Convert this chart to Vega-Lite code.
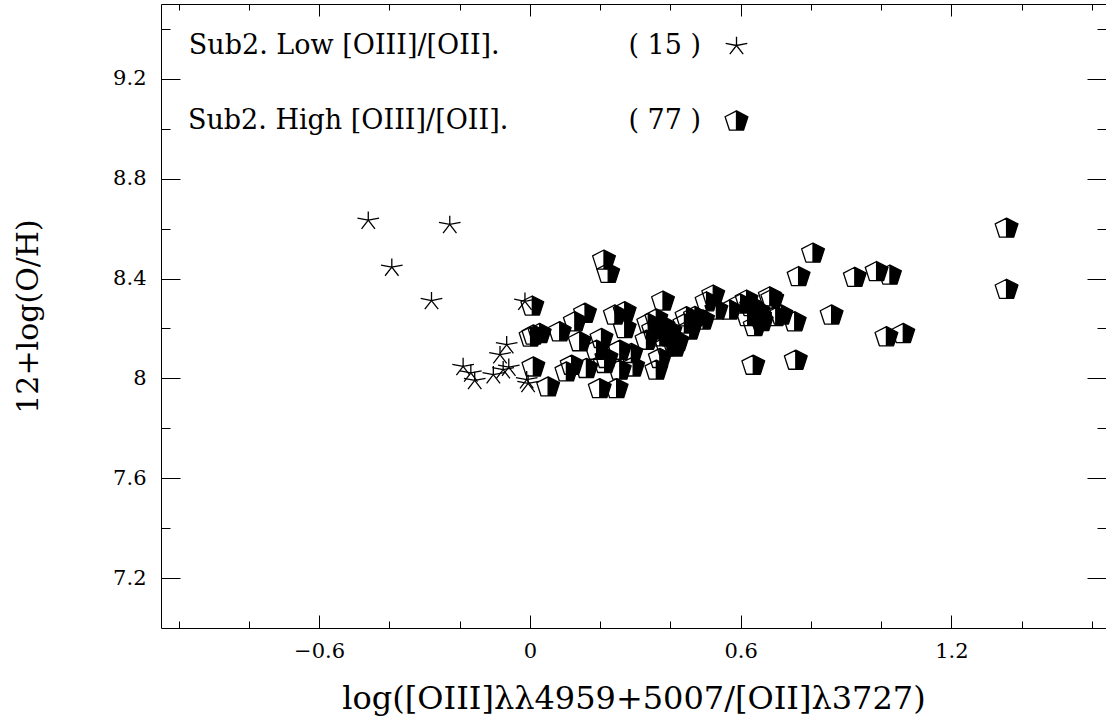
{
  "$schema": "https://vega.github.io/schema/vega-lite/v6.json",
  "autosize": "none",
  "width": 945,
  "height": 624,
  "padding": {"left": 161, "top": 4, "right": 0, "bottom": 97},
  "background": "white",
  "config": {
    "view": {"stroke": null},
    "axis": {"grid": false, "domainColor": "black", "tickColor": "black", "labelColor": "black", "titleColor": "black", "labelFont": "DejaVu Serif", "titleFont": "DejaVu Serif", "labelFontSize": 21, "titleFontWeight": "normal", "domainWidth": 1, "tickWidth": 1, "format": "~r"}
  },
  "datasets": {
    "pts": [
      {"x": -0.460, "y": 8.634, "g": "Sub2. Low [OIII]/[OII]."},
      {"x": -0.228, "y": 8.617, "g": "Sub2. Low [OIII]/[OII]."},
      {"x": -0.393, "y": 8.446, "g": "Sub2. Low [OIII]/[OII]."},
      {"x": -0.280, "y": 8.312, "g": "Sub2. Low [OIII]/[OII]."},
      {"x": -0.014, "y": 8.309, "g": "Sub2. Low [OIII]/[OII]."},
      {"x": -0.066, "y": 8.135, "g": "Sub2. Low [OIII]/[OII]."},
      {"x": -0.085, "y": 8.095, "g": "Sub2. Low [OIII]/[OII]."},
      {"x": -0.076, "y": 8.035, "g": "Sub2. Low [OIII]/[OII]."},
      {"x": -0.190, "y": 8.048, "g": "Sub2. Low [OIII]/[OII]."},
      {"x": -0.168, "y": 8.022, "g": "Sub2. Low [OIII]/[OII]."},
      {"x": -0.157, "y": 7.992, "g": "Sub2. Low [OIII]/[OII]."},
      {"x": -0.104, "y": 8.015, "g": "Sub2. Low [OIII]/[OII]."},
      {"x": -0.060, "y": 8.045, "g": "Sub2. Low [OIII]/[OII]."},
      {"x": -0.009, "y": 7.995, "g": "Sub2. Low [OIII]/[OII]."},
      {"x": -0.005, "y": 7.980, "g": "Sub2. Low [OIII]/[OII]."},
      {"x": 0.211, "y": 8.476, "g": "Sub2. High [OIII]/[OII]."},
      {"x": 0.223, "y": 8.423, "g": "Sub2. High [OIII]/[OII]."},
      {"x": 0.007, "y": 8.292, "g": "Sub2. High [OIII]/[OII]."},
      {"x": 0.379, "y": 8.312, "g": "Sub2. High [OIII]/[OII]."},
      {"x": 0.010, "y": 8.176, "g": "Sub2. High [OIII]/[OII]."},
      {"x": 0.028, "y": 8.182, "g": "Sub2. High [OIII]/[OII]."},
      {"x": 0.002, "y": 8.168, "g": "Sub2. High [OIII]/[OII]."},
      {"x": 0.085, "y": 8.189, "g": "Sub2. High [OIII]/[OII]."},
      {"x": 0.128, "y": 8.229, "g": "Sub2. High [OIII]/[OII]."},
      {"x": 0.157, "y": 8.263, "g": "Sub2. High [OIII]/[OII]."},
      {"x": 0.142, "y": 8.149, "g": "Sub2. High [OIII]/[OII]."},
      {"x": 0.204, "y": 8.162, "g": "Sub2. High [OIII]/[OII]."},
      {"x": 0.242, "y": 8.256, "g": "Sub2. High [OIII]/[OII]."},
      {"x": 0.270, "y": 8.269, "g": "Sub2. High [OIII]/[OII]."},
      {"x": 0.270, "y": 8.202, "g": "Sub2. High [OIII]/[OII]."},
      {"x": 0.337, "y": 8.222, "g": "Sub2. High [OIII]/[OII]."},
      {"x": 0.351, "y": 8.196, "g": "Sub2. High [OIII]/[OII]."},
      {"x": 0.370, "y": 8.169, "g": "Sub2. High [OIII]/[OII]."},
      {"x": 0.398, "y": 8.169, "g": "Sub2. High [OIII]/[OII]."},
      {"x": 0.413, "y": 8.128, "g": "Sub2. High [OIII]/[OII]."},
      {"x": 0.332, "y": 8.155, "g": "Sub2. High [OIII]/[OII]."},
      {"x": 0.190, "y": 8.115, "g": "Sub2. High [OIII]/[OII]."},
      {"x": 0.218, "y": 8.082, "g": "Sub2. High [OIII]/[OII]."},
      {"x": 0.256, "y": 8.115, "g": "Sub2. High [OIII]/[OII]."},
      {"x": 0.289, "y": 8.102, "g": "Sub2. High [OIII]/[OII]."},
      {"x": 0.370, "y": 8.082, "g": "Sub2. High [OIII]/[OII]."},
      {"x": 0.010, "y": 8.048, "g": "Sub2. High [OIII]/[OII]."},
      {"x": 0.119, "y": 8.055, "g": "Sub2. High [OIII]/[OII]."},
      {"x": 0.104, "y": 8.028, "g": "Sub2. High [OIII]/[OII]."},
      {"x": 0.161, "y": 8.042, "g": "Sub2. High [OIII]/[OII]."},
      {"x": 0.213, "y": 8.062, "g": "Sub2. High [OIII]/[OII]."},
      {"x": 0.256, "y": 8.035, "g": "Sub2. High [OIII]/[OII]."},
      {"x": 0.294, "y": 8.048, "g": "Sub2. High [OIII]/[OII]."},
      {"x": 0.360, "y": 8.035, "g": "Sub2. High [OIII]/[OII]."},
      {"x": 0.052, "y": 7.968, "g": "Sub2. High [OIII]/[OII]."},
      {"x": 0.199, "y": 7.961, "g": "Sub2. High [OIII]/[OII]."},
      {"x": 0.247, "y": 7.961, "g": "Sub2. High [OIII]/[OII]."},
      {"x": 0.446, "y": 8.249, "g": "Sub2. High [OIII]/[OII]."},
      {"x": 0.455, "y": 8.196, "g": "Sub2. High [OIII]/[OII]."},
      {"x": 0.493, "y": 8.236, "g": "Sub2. High [OIII]/[OII]."},
      {"x": 0.522, "y": 8.336, "g": "Sub2. High [OIII]/[OII]."},
      {"x": 0.503, "y": 8.309, "g": "Sub2. High [OIII]/[OII]."},
      {"x": 0.531, "y": 8.276, "g": "Sub2. High [OIII]/[OII]."},
      {"x": 0.569, "y": 8.276, "g": "Sub2. High [OIII]/[OII]."},
      {"x": 0.617, "y": 8.316, "g": "Sub2. High [OIII]/[OII]."},
      {"x": 0.655, "y": 8.249, "g": "Sub2. High [OIII]/[OII]."},
      {"x": 0.683, "y": 8.329, "g": "Sub2. High [OIII]/[OII]."},
      {"x": 0.716, "y": 8.256, "g": "Sub2. High [OIII]/[OII]."},
      {"x": 0.636, "y": 8.055, "g": "Sub2. High [OIII]/[OII]."},
      {"x": 0.757, "y": 8.075, "g": "Sub2. High [OIII]/[OII]."},
      {"x": 0.765, "y": 8.410, "g": "Sub2. High [OIII]/[OII]."},
      {"x": 0.806, "y": 8.504, "g": "Sub2. High [OIII]/[OII]."},
      {"x": 0.925, "y": 8.407, "g": "Sub2. High [OIII]/[OII]."},
      {"x": 0.987, "y": 8.430, "g": "Sub2. High [OIII]/[OII]."},
      {"x": 1.025, "y": 8.416, "g": "Sub2. High [OIII]/[OII]."},
      {"x": 0.859, "y": 8.256, "g": "Sub2. High [OIII]/[OII]."},
      {"x": 0.754, "y": 8.229, "g": "Sub2. High [OIII]/[OII]."},
      {"x": 1.015, "y": 8.169, "g": "Sub2. High [OIII]/[OII]."},
      {"x": 1.063, "y": 8.182, "g": "Sub2. High [OIII]/[OII]."},
      {"x": 1.357, "y": 8.604, "g": "Sub2. High [OIII]/[OII]."},
      {"x": 1.357, "y": 8.359, "g": "Sub2. High [OIII]/[OII]."},
      {"x": 0.600, "y": 8.300, "g": "Sub2. High [OIII]/[OII]."},
      {"x": 0.630, "y": 8.290, "g": "Sub2. High [OIII]/[OII]."},
      {"x": 0.650, "y": 8.270, "g": "Sub2. High [OIII]/[OII]."},
      {"x": 0.620, "y": 8.250, "g": "Sub2. High [OIII]/[OII]."},
      {"x": 0.660, "y": 8.230, "g": "Sub2. High [OIII]/[OII]."},
      {"x": 0.640, "y": 8.210, "g": "Sub2. High [OIII]/[OII]."},
      {"x": 0.690, "y": 8.320, "g": "Sub2. High [OIII]/[OII]."},
      {"x": 0.700, "y": 8.250, "g": "Sub2. High [OIII]/[OII]."},
      {"x": 0.360, "y": 8.240, "g": "Sub2. High [OIII]/[OII]."},
      {"x": 0.380, "y": 8.210, "g": "Sub2. High [OIII]/[OII]."},
      {"x": 0.400, "y": 8.190, "g": "Sub2. High [OIII]/[OII]."},
      {"x": 0.420, "y": 8.150, "g": "Sub2. High [OIII]/[OII]."},
      {"x": 0.390, "y": 8.130, "g": "Sub2. High [OIII]/[OII]."},
      {"x": 0.440, "y": 8.220, "g": "Sub2. High [OIII]/[OII]."},
      {"x": 0.470, "y": 8.250, "g": "Sub2. High [OIII]/[OII]."}
    ]
  },
  "data": {"name": "pts"},
  "resolve": {"axis": {"x": "independent", "y": "independent"}},
  "layer": [
    {
      "transform": [{"filter": "indexof(datum.g, 'High') >= 0"}],
      "mark": {"type": "point", "shape": "M0,-0.84L1,-0.33L0.62,0.84L-0.62,0.84L-1,-0.33Z", "filled": true, "fill": "white", "strokeWidth": 0, "size": 518, "opacity": 1},
      "encoding": {
        "x": {"field": "x", "type": "quantitative", "scale": {"domain": [-1.05, 1.64], "nice": false, "zero": false},
          "axis": {"orient": "bottom", "values": [-0.6, 0, 0.6, 1.2], "tickSize": -13, "labelPadding": 25, "domain": true,
            "title": "log([OIII]λλ4959+5007/[OII]λ3727)", "titleFontSize": 32, "titleBaseline": "alphabetic", "titleY": 80}},
        "y": {"field": "y", "type": "quantitative", "scale": {"domain": [7.0, 9.5], "nice": false, "zero": false},
          "axis": {"orient": "left", "values": [7.2, 7.6, 8.0, 8.4, 8.8, 9.2], "tickSize": -19, "labelPadding": 34, "domain": true,
            "title": "12+log(O/H)", "titleFontSize": 30, "titleBaseline": "alphabetic", "titleX": -124}}
      }
    },
    {
      "mark": {"type": "point", "filled": true, "strokeWidth": 1.3, "strokeJoin": "round", "size": 518, "opacity": 1},
      "encoding": {
        "x": {"field": "x", "type": "quantitative",
          "axis": {"orient": "bottom", "values": [-1.0, -0.8, -0.4, -0.2, 0.2, 0.4, 0.8, 1.0, 1.4, 1.6], "tickSize": -7, "labels": false, "domain": false, "title": null}},
        "y": {"field": "y", "type": "quantitative",
          "axis": {"orient": "left", "values": [7.4, 7.8, 8.2, 8.6, 9.0, 9.4], "tickSize": -9, "labels": false, "domain": false, "title": null}},
        "fill": {"field": "g", "type": "nominal",
          "scale": {"domain": ["Sub2. Low [OIII]/[OII].", "Sub2. High [OIII]/[OII]."], "range": ["black", "black"]},
          "legend": {"title": null}},
        "stroke": {"field": "g", "type": "nominal",
          "scale": {"domain": ["Sub2. Low [OIII]/[OII].", "Sub2. High [OIII]/[OII]."], "range": ["black", "black"]},
          "legend": {"title": null}},
        "shape": {"field": "g", "type": "nominal",
          "scale": {"domain": ["Sub2. Low [OIII]/[OII].", "Sub2. High [OIII]/[OII]."],
            "range": ["M0,0L0,-0.76M0,0L0.95,-0.18M0,0L0.59,0.76M0,0L-0.59,0.76M0,0L-0.95,-0.18",
                      "M0,-0.84L-1,-0.33L-0.62,0.84L0,0.84L-0.62,0.84L-1,-0.33ZM0,-0.84L1,-0.33L0.62,0.84L0,0.84Z"]},
          "legend": {"title": null, "orient": "none", "legendX": 562, "legendY": 28, "padding": 0,
            "symbolSize": 518, "symbolStrokeWidth": 1.3,
            "labelAlign": "right", "labelBaseline": "middle", "labelOffset": -49, "labelLimit": 0,
            "labelFont": "DejaVu Serif", "labelFontSize": 27, "labelColor": "black", "rowPadding": 47,
            "labelExpr": "indexof(datum.label, 'Low') >= 0 ? datum.label + '\u00a0\u00a0\u00a0\u00a0\u00a0\u00a0\u00a0\u00a0\u00a0\u00a0\u00a0\u00a0\u00a0\u00a0\u00a0( 15 )' : datum.label + '\u00a0\u00a0\u00a0\u00a0\u00a0\u00a0\u00a0\u00a0\u00a0\u00a0\u00a0\u00a0\u00a0\u00a0( 77 )'"}}
      }
    },
    {
      "mark": {"type": "point", "opacity": 0},
      "encoding": {
        "x": {"field": "x", "type": "quantitative",
          "axis": {"orient": "top", "values": [-0.6, 0, 0.6, 1.2], "tickSize": -12, "labels": false, "domain": true, "title": null}},
        "y": {"field": "y", "type": "quantitative",
          "axis": {"orient": "right", "values": [7.2, 7.6, 8.0, 8.4, 8.8, 9.2], "tickSize": -19, "labels": false, "domain": true, "title": null}}
      }
    },
    {
      "mark": {"type": "point", "opacity": 0},
      "encoding": {
        "x": {"field": "x", "type": "quantitative",
          "axis": {"orient": "top", "values": [-1.0, -0.8, -0.4, -0.2, 0.2, 0.4, 0.8, 1.0, 1.4, 1.6], "tickSize": -6, "labels": false, "domain": false, "title": null}},
        "y": {"field": "y", "type": "quantitative",
          "axis": {"orient": "right", "values": [7.4, 7.8, 8.2, 8.6, 9.0, 9.4], "tickSize": -9, "labels": false, "domain": false, "title": null}}
      }
    }
  ]
}
